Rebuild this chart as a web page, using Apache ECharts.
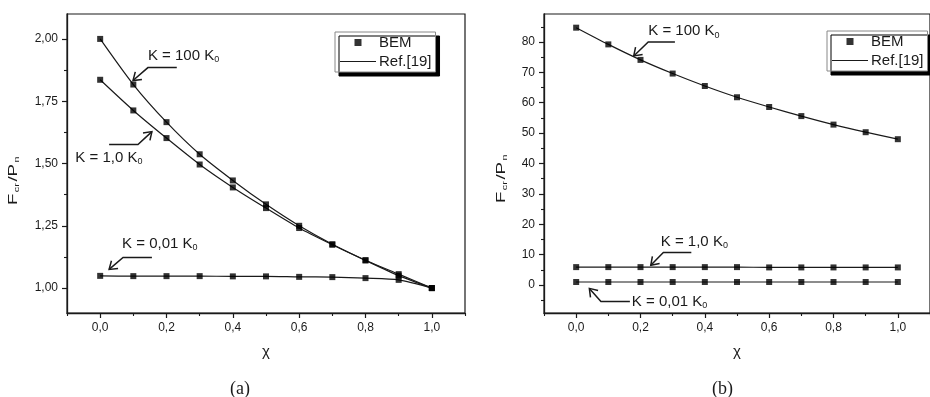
<!DOCTYPE html>
<html>
<head>
<meta charset="utf-8">
<script src="https://cdn.jsdelivr.net/npm/echarts@6/dist/echarts.min.js"></script>
<style>
  html, body { margin: 0; padding: 0; background: #fff; }
  #main { width: 930px; height: 397px; }
</style>
</head>
<body>
<div id="main"></div>
<script>
// chi values (x axis of both panels)
const chi = [0, 0.1, 0.2, 0.3, 0.4, 0.5, 0.6, 0.7, 0.8, 0.9, 1.0]

// panel (a): Fcr/Pn
const aK100 = [2.00, 1.817, 1.666, 1.537, 1.432, 1.336, 1.250, 1.176, 1.112, 1.056, 1.00]
const aK1 = [1.836, 1.713, 1.602, 1.496, 1.404, 1.321, 1.241, 1.174, 1.111, 1.050, 1.00]
const aK001 = [1.049, 1.048, 1.048, 1.048, 1.047, 1.047, 1.045, 1.044, 1.040, 1.033, 1.00]

// panel (b): Fcr/Pn
const bK100 = [84.7, 79.2, 74.1, 69.6, 65.5, 61.8, 58.6, 55.6, 52.8, 50.3, 48.0]
const bK1 = [5.9, 5.9, 5.9, 5.9, 5.9, 5.9, 5.8, 5.8, 5.8, 5.8, 5.8]
const bK001 = [1.0, 1.0, 1.0, 1.0, 1.0, 1.0, 1.0, 1.0, 1.0, 1.0, 1.0]

// ticks
const xTicks = [0, 0.2, 0.4, 0.6, 0.8, 1.0]
const xMinor = [-0.1, 0.1, 0.3, 0.5, 0.7, 0.9, 1.1]
const aYTicks = [1.0, 1.25, 1.5, 1.75, 2.0]
const aYMinor = [1.125, 1.375, 1.625, 1.875]
const bYTicks = [0, 10, 20, 30, 40, 50, 60, 70, 80]
const bYMinor = [-5, 5, 15, 25, 35, 45, 55, 65, 75, 85]

const FONT = '"Liberation Sans", Arial, sans-serif'
const INK = '#1a1a1a'

const comma = (d) => (v) => v.toFixed(d).replace('.', ',')

function mainX(grid) {
  return {
    type: 'value', gridIndex: grid, min: -0.1, max: 1.1, position: 'bottom',
    name: 'χ', nameLocation: 'middle', nameGap: 31,
    nameTextStyle: { fontFamily: FONT, fontSize: 15, color: INK },
    axisLine: { show: true, onZero: false, lineStyle: { color: INK, width: 1.3 } },
    axisTick: { show: true, inside: false, length: 5, customValues: xTicks, lineStyle: { color: INK, width: 1.2 } },
    axisLabel: { customValues: xTicks, formatter: comma(1), margin: 9, fontFamily: FONT, fontSize: 12, color: INK },
    splitLine: { show: false },
  }
}
function minorX(grid) {
  return {
    type: 'value', gridIndex: grid, min: -0.1, max: 1.1, position: 'bottom', offset: 0,
    axisLine: { show: false, onZero: false },
    axisTick: { show: true, length: 3, customValues: xMinor, lineStyle: { color: INK, width: 1.1 } },
    axisLabel: { show: false },
    splitLine: { show: false },
  }
}
function mainY(grid, min, max, ticks, digits) {
  return {
    type: 'value', gridIndex: grid, min, max, position: 'left',
    axisLine: { show: true, onZero: false, lineStyle: { color: INK, width: 1.3 } },
    axisTick: { show: true, length: 5, customValues: ticks, lineStyle: { color: INK, width: 1.2 } },
    axisLabel: { customValues: ticks, formatter: comma(digits), margin: 9, fontFamily: FONT, fontSize: 12, color: INK },
    splitLine: { show: false },
  }
}
function minorY(grid, min, max, ticks) {
  return {
    type: 'value', gridIndex: grid, min, max, position: 'left', offset: 0,
    axisLine: { show: false, onZero: false },
    axisTick: { show: true, length: 3, customValues: ticks, lineStyle: { color: INK, width: 1.1 } },
    axisLabel: { show: false },
    splitLine: { show: false },
  }
}

function pairs(ys) {
  return chi.map((x, i) => [x, ys[i]])
}
function curve(ys, axis) {
  return [
    {
      name: 'Ref.[19]', type: 'line', xAxisIndex: axis, yAxisIndex: axis,
      data: pairs(ys), symbol: 'none', smooth: 0.25, silent: true,
      lineStyle: { color: INK, width: 1.2 }, itemStyle: { color: INK }, z: 2,
    },
    {
      name: 'BEM', type: 'scatter', xAxisIndex: axis, yAxisIndex: axis,
      data: pairs(ys), symbol: 'rect', symbolSize: 6,
      itemStyle: { color: '#000' }, z: 3,
    },
  ]
}

// legend icons: a small square and a thin line inside the same wide box
const bemIcon = 'path://M0,0L0.01,0M36,10L35.99,10M14.5,1.5h7v7h-7z'
const refIcon = 'path://M0,0L0.01,0M36,10L35.99,10M0,4.4h36v1.2h-36z'
function legend(left, top) {
  return {
    orient: 'vertical', left, top,
    data: [{ name: 'BEM', icon: bemIcon }, { name: 'Ref.[19]', icon: refIcon }],
    itemWidth: 36, itemHeight: 10, itemGap: 4,
    padding: [3, 4, 3, 5],
    backgroundColor: '#fff', borderColor: '#888', borderWidth: 1,
    shadowColor: '#000', shadowBlur: 0, shadowOffsetX: 4, shadowOffsetY: 4,
    textStyle: { fontFamily: FONT, fontSize: 15, color: INK, padding: [0, 0, 0, -2] },
    selectedMode: false,
  }
}

const option = {
  backgroundColor: '#fff',
  animation: false,
  grid: [
    { left: 67, top: 14, width: 398, height: 299, show: true, borderColor: INK, borderWidth: 1.2, backgroundColor: 'transparent' },
    { left: 544, top: 14, width: 400, height: 299, show: true, borderColor: INK, borderWidth: 1.2, backgroundColor: 'transparent' },
  ],
  xAxis: [mainX(0), minorX(0), mainX(1), minorX(1)],
  yAxis: [
    mainY(0, 0.9, 2.1, aYTicks, 2),
    minorY(0, 0.9, 2.1, aYMinor),
    mainY(1, -9.2, 89.2, bYTicks, 0),
    minorY(1, -9.2, 89.2, bYMinor),
  ],
  legend: [legend(335, 32), legend(827, 31)],
  title: [
    { text: '(a)', left: 225, top: 375, textStyle: { fontFamily: '"Liberation Serif", serif', fontSize: 18, fontWeight: 'normal', color: INK } },
    { text: '(b)', left: 707, top: 375, textStyle: { fontFamily: '"Liberation Serif", serif', fontSize: 18, fontWeight: 'normal', color: INK } },
  ],
  series: [
    ...curve(aK100, 0), ...curve(aK1, 0), ...curve(aK001, 0),
    ...curve(bK100, 2), ...curve(bK1, 2), ...curve(bK001, 2),
  ],
}

const chart = echarts.init(document.getElementById('main'))
chart.setOption(option)

// annotations, in data coordinates: label anchor (left, middle) and arrow path ending at tip
const annotations = [
  { axis: 0, label: '100', at: [0.144, 1.933], path: [[0.231, 1.885], [0.144, 1.885], [0.099, 1.833]] },
  { axis: 0, label: '1,0', at: [-0.075, 1.524], path: [[0.027, 1.576], [0.114, 1.576], [0.156, 1.628]] },
  { axis: 0, label: '0,01', at: [0.066, 1.179], path: [[0.156, 1.123], [0.069, 1.123], [0.027, 1.075]] },
  { axis: 2, label: '100', at: [0.224, 83.6], path: [[0.307, 80.0], [0.224, 80.0], [0.179, 75.4]] },
  { axis: 2, label: '1,0', at: [0.263, 14.3], path: [[0.358, 10.7], [0.271, 10.7], [0.232, 6.5]] },
  { axis: 2, label: '0,01', at: [0.173, -5.4], path: [[0.167, -5.4], [0.077, -5.4], [0.041, -1.1]] },
]

const toPx = (axis, p) => chart.convertToPixel({ xAxisIndex: axis, yAxisIndex: axis }, p)

const graphics = []

// y axis titles, F_cr/P_n, drawn rotated and stretched along the text like the original
const yTitles = [{ x: 14, y: 180 }, { x: 502, y: 178 }]
yTitles.forEach((p) => {
  graphics.push({
    type: 'text', x: p.x, y: p.y, rotation: Math.PI / 2, scaleX: 1.55, scaleY: 1, silent: true,
    style: {
      text: '{a|F}{s|cr}{a|/P}{s|n}',
      align: 'center', verticalAlign: 'middle',
      rich: {
        a: { fontFamily: FONT, fontSize: 12, fill: INK },
        s: { fontFamily: FONT, fontSize: 7, fill: INK, padding: [6, 1, 0, 1] },
      },
    },
  })
})

annotations.forEach((a) => {
  const pos = toPx(a.axis, a.at)
  graphics.push({
    type: 'text', x: pos[0], y: pos[1], silent: true,
    style: {
      text: '{a|K = ' + a.label + ' K}{s|0}',
      verticalAlign: 'middle', align: 'left',
      rich: {
        a: { fontFamily: FONT, fontSize: 15, fill: INK },
        s: { fontFamily: FONT, fontSize: 9, fill: INK, padding: [8, 0, 0, 0] },
      },
    },
  })
  const pts = a.path.map((p) => toPx(a.axis, p))
  graphics.push({
    type: 'polyline', silent: true,
    shape: { points: pts },
    style: { stroke: INK, lineWidth: 1.5, fill: null },
  })
  // open arrow head at the tip
  const tip = pts[pts.length - 1]
  const prev = pts[pts.length - 2]
  const ang = Math.atan2(prev[1] - tip[1], prev[0] - tip[0])
  const len = 9
  const spread = 0.6
  const h1 = [tip[0] + len * Math.cos(ang + spread), tip[1] + len * Math.sin(ang + spread)]
  const h2 = [tip[0] + len * Math.cos(ang - spread), tip[1] + len * Math.sin(ang - spread)]
  graphics.push({
    type: 'polyline', silent: true,
    shape: { points: [h1, tip, h2] },
    style: { stroke: INK, lineWidth: 1.5, fill: null },
  })
})
chart.setOption({ graphic: graphics })
</script>
</body>
</html>
